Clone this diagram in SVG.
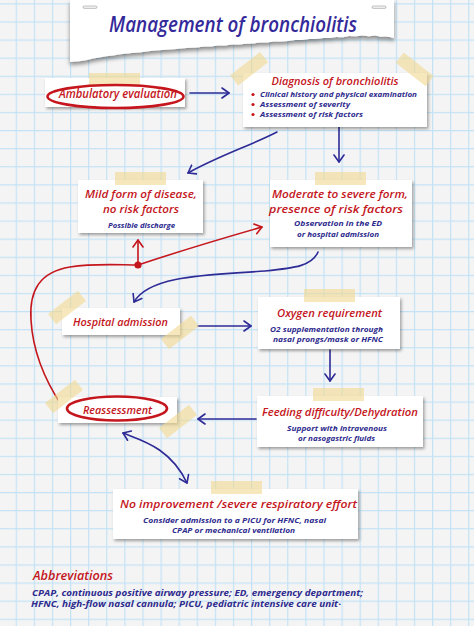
<svg xmlns="http://www.w3.org/2000/svg" width="474" height="626" viewBox="0 0 474 626">
<defs>
<pattern id="grid" x="15.7" y="3.3" width="18.1" height="18.1" patternUnits="userSpaceOnUse">
<path d="M0.6,0 V18.1 M0,0.6 H18.1" stroke="#c3e2f5" stroke-width="1.2" fill="none"/>
</pattern>
<filter id="sh" x="-10%" y="-20%" width="130%" height="150%">
<feDropShadow dx="1.5" dy="2" stdDeviation="1.4" flood-color="#000" flood-opacity="0.35"/>
</filter>
<filter id="tsh" x="-10%" y="-20%" width="130%" height="160%">
<feDropShadow dx="0" dy="3" stdDeviation="2" flood-color="#000" flood-opacity="0.45"/>
</filter>
<marker id="ab" viewBox="-8 -6 10 12" markerWidth="10" markerHeight="12" refX="0" refY="0" orient="auto" markerUnits="userSpaceOnUse">
<path d="M-7,-5 L0,0 L-7,5" fill="none" stroke="#2e2b96" stroke-width="1.6" stroke-linecap="round" stroke-linejoin="round"/>
</marker>
<marker id="abs" viewBox="-8 -6 10 12" markerWidth="10" markerHeight="12" refX="0" refY="0" orient="auto-start-reverse" markerUnits="userSpaceOnUse">
<path d="M-7,-5 L0,0 L-7,5" fill="none" stroke="#2e2b96" stroke-width="1.6" stroke-linecap="round" stroke-linejoin="round"/>
</marker>
<marker id="ar" viewBox="-8 -6 10 12" markerWidth="10" markerHeight="12" refX="0" refY="0" orient="auto" markerUnits="userSpaceOnUse">
<path d="M-7,-5 L0,0 L-7,5" fill="none" stroke="#c4161c" stroke-width="1.6" stroke-linecap="round" stroke-linejoin="round"/>
</marker>
</defs>
<style>
.box{fill:#ffffff;filter:url(#sh)}
.tape{fill:#f0d890;opacity:0.6}
.r{fill:#c4161c;font-family:'Open Sans','Liberation Sans',sans-serif;font-style:italic;font-weight:600;text-anchor:middle}
.b{fill:#2e2b8e;font-family:'Open Sans','Liberation Sans',sans-serif;font-style:italic;font-weight:700;text-anchor:middle}
.cb{fill:none;stroke:#2e2b96;stroke-width:1.6;stroke-linecap:round}
.cr{fill:none;stroke:#c4161c;stroke-width:1.6;stroke-linecap:round}
.el{fill:none;stroke:#c4161c;stroke-width:2.6}
</style>
<rect x="0" y="0" width="474" height="626" fill="#f4f4f4"/>
<rect x="0" y="0" width="474" height="626" fill="url(#grid)"/>

<g id="connectors">
<path class="cb" d="M190,93 L229,93" marker-end="url(#ab)"/>
<path class="cb" d="M277,132 C252,145 218,156 188,173" marker-end="url(#ab)"/>
<path class="cb" d="M339,127 L339,162" marker-end="url(#ab)"/>
<path class="cb" d="M318,252 C312,266 295,268 265,271 C215,275 150,274 134,302" marker-end="url(#ab)"/>
<path class="cb" d="M198,326 L251,326" marker-end="url(#ab)"/>
<path class="cb" d="M330,350 L330,381" marker-end="url(#ab)"/>
<path class="cb" d="M256,419 L198,419" marker-end="url(#ab)"/>
<path class="cb" d="M123,433 C140,440 170,447 187,483" marker-start="url(#abs)" marker-end="url(#ab)"/>
<path class="cr" d="M62,406 C48,385 33,355 31,320 C29,290 40,272 70,267 C95,263 120,265 138,265"/>
<path class="cr" d="M138,265 L138,240" marker-end="url(#ar)"/>
<path class="cr" d="M138,265 C180,251 220,239 262,227" marker-end="url(#ar)"/>
<circle cx="138" cy="265" r="3.6" fill="#c4161c"/>
</g>

<g id="ambulatory">
<rect class="box" x="45" y="78" width="140" height="29"/>
<rect class="tape" x="89" y="73" width="51" height="13"/>
<ellipse class="el" cx="115.5" cy="96.5" rx="68" ry="11.5"/>
<text class="r" x="118" y="98" font-size="12" textLength="118" lengthAdjust="spacingAndGlyphs">Ambulatory evaluation</text>
</g>

<g id="diagnosis">
<rect class="box" x="243" y="73" width="184" height="54"/>
<rect class="tape" x="230" y="63" width="38" height="13" transform="rotate(-38 248 69)"/>
<rect class="tape" x="396" y="63" width="38" height="13" transform="rotate(38 415 69)"/>
<text class="r" x="335" y="85" font-size="11" textLength="127" lengthAdjust="spacingAndGlyphs">Diagnosis of bronchiolitis</text>
<circle cx="253" cy="94.5" r="1.6" fill="#c4161c"/>
<circle cx="253" cy="104.5" r="1.6" fill="#c4161c"/>
<circle cx="253" cy="114.5" r="1.6" fill="#c4161c"/>
<text class="b" x="260" y="97" font-size="7.5" style="text-anchor:start" textLength="157" lengthAdjust="spacingAndGlyphs">Clinical history and physical examination</text>
<text class="b" x="260" y="107" font-size="7.5" style="text-anchor:start" textLength="90" lengthAdjust="spacingAndGlyphs">Assessment of severity</text>
<text class="b" x="260" y="117" font-size="7.5" style="text-anchor:start" textLength="103" lengthAdjust="spacingAndGlyphs">Assessment of risk factors</text>
</g>

<g id="title">
<path d="M70,0 L394,0 L394,38 L391,37.2 L386,36.4 L381,36.8 L375,35.6 L369,36.2 L362,35.4 L356,36.3 L349,36.1 L343,37.2 L336,37.0 L330,37.9 L323,38.0 L316,38.9 L309,39.1 L302,40.0 L295,40.1 L288,40.9 L281,41.4 L274,41.6 L267,42.5 L260,42.6 L253,43.6 L246,43.7 L239,44.5 L232,44.6 L225,45.4 L218,45.6 L211,46.5 L204,46.6 L197,47.4 L190,47.7 L183,48.3 L176,48.9 L169,49.4 L162,49.9 L155,50.6 L148,51.2 L141,52.2 L134,52.7 L127,53.6 L120,54.3 L113,55.6 L106,56.2 L99,57.4 L93,58.6 L87,60.1 L81,61.0 L75,61.6 L70,62 Z" fill="#ffffff" filter="url(#tsh)"/>
<rect x="83" y="6" width="14" height="2.4" rx="1.2" fill="#f2f2f2" stroke="#9a9a9a" stroke-width="0.6"/>
<rect x="372" y="6" width="14" height="2.4" rx="1.2" fill="#f2f2f2" stroke="#9a9a9a" stroke-width="0.6"/>
<text x="233" y="32" font-size="21" fill="#34299a" font-family="'Open Sans','Liberation Sans',sans-serif" font-style="italic" font-weight="600" text-anchor="middle" textLength="248" lengthAdjust="spacingAndGlyphs">Management of bronchiolitis</text>
</g>

<g id="mild">
<rect class="box" x="78" y="180" width="125" height="53"/>
<rect class="tape" x="115" y="172" width="51" height="13"/>
<text class="r" x="141" y="198" font-size="11" textLength="112" lengthAdjust="spacingAndGlyphs">Mild form of disease,</text>
<text class="r" x="141" y="213" font-size="11" textLength="76" lengthAdjust="spacingAndGlyphs">no risk factors</text>
<text class="b" x="141.5" y="228" font-size="7.5" textLength="67" lengthAdjust="spacingAndGlyphs">Possible discharge</text>
</g>

<g id="moderate">
<rect class="box" x="270" y="180" width="142" height="67"/>
<rect class="tape" x="315" y="172" width="51" height="13"/>
<text class="r" x="340" y="198" font-size="11" textLength="136" lengthAdjust="spacingAndGlyphs">Moderate to severe form,</text>
<text class="r" x="336" y="213" font-size="11" textLength="134" lengthAdjust="spacingAndGlyphs">presence of risk factors</text>
<text class="b" x="338" y="226" font-size="7.5" textLength="88" lengthAdjust="spacingAndGlyphs">Observation in the ED</text>
<text class="b" x="338" y="237" font-size="7.5" textLength="82" lengthAdjust="spacingAndGlyphs">or hospital admission</text>
</g>

<g id="hospital">
<rect class="box" x="62" y="308" width="118" height="27"/>
<rect class="tape" x="48" y="301" width="38" height="13" transform="rotate(-38 67 307.5)"/>
<rect class="tape" x="161" y="326" width="38" height="13" transform="rotate(-38 180 332.5)"/>
<text class="r" x="120.5" y="326" font-size="11" textLength="95" lengthAdjust="spacingAndGlyphs">Hospital admission</text>
</g>

<g id="oxygen">
<rect class="box" x="258" y="297" width="142" height="52"/>
<rect class="tape" x="304" y="289" width="51" height="13"/>
<text class="r" x="329.5" y="317" font-size="11" textLength="105" lengthAdjust="spacingAndGlyphs">Oxygen requirement</text>
<text class="b" x="326.5" y="332" font-size="7.5" textLength="113" lengthAdjust="spacingAndGlyphs">O2 supplementation through</text>
<text class="b" x="328" y="342" font-size="7.5" textLength="110" lengthAdjust="spacingAndGlyphs">nasal prongs/mask or HFNC</text>
</g>

<g id="reassessment">
<rect class="box" x="58" y="397" width="119" height="26"/>
<rect class="tape" x="45" y="390" width="38" height="13" transform="rotate(-38 64 396.5)"/>
<rect class="tape" x="159" y="415" width="38" height="13" transform="rotate(-38 178 421.5)"/>
<ellipse class="el" cx="117" cy="408.5" rx="50" ry="12"/>
<text class="r" x="117.5" y="414" font-size="11" textLength="69" lengthAdjust="spacingAndGlyphs">Reassessment</text>
</g>

<g id="feeding">
<rect class="box" x="257" y="396" width="166" height="51"/>
<rect class="tape" x="313" y="388" width="51" height="13"/>
<text class="r" x="340" y="416" font-size="11" textLength="156" lengthAdjust="spacingAndGlyphs">Feeding difficulty/Dehydration</text>
<text class="b" x="337" y="431" font-size="7.5" textLength="100" lengthAdjust="spacingAndGlyphs">Support with intravenous</text>
<text class="b" x="336.5" y="441" font-size="7.5" textLength="77" lengthAdjust="spacingAndGlyphs">or nasogastric fluids</text>
</g>

<g id="noimprovement">
<rect class="box" x="113" y="489" width="245" height="50"/>
<rect class="tape" x="211" y="481" width="51" height="13"/>
<text class="r" x="238.5" y="508" font-size="11" textLength="237" lengthAdjust="spacingAndGlyphs">No improvement /severe respiratory effort</text>
<text class="b" x="234.5" y="523" font-size="7.5" textLength="183" lengthAdjust="spacingAndGlyphs">Consider admission to a PICU for HFNC, nasal</text>
<text class="b" x="233.5" y="533" font-size="7.5" textLength="123" lengthAdjust="spacingAndGlyphs">CPAP or mechanical ventilation</text>
</g>

<g id="abbreviations">
<text class="r" x="33" y="580" font-size="12" style="text-anchor:start" textLength="80" lengthAdjust="spacingAndGlyphs">Abbreviations</text>
<text class="b" x="32" y="596" font-size="8.5" style="text-anchor:start" textLength="331" lengthAdjust="spacingAndGlyphs">CPAP, continuous positive airway pressure; ED, emergency department;</text>
<text class="b" x="31" y="607" font-size="8.5" style="text-anchor:start" textLength="310" lengthAdjust="spacingAndGlyphs">HFNC, high-flow nasal cannula; PICU, pediatric intensive care unit·</text>
</g>
</svg>
